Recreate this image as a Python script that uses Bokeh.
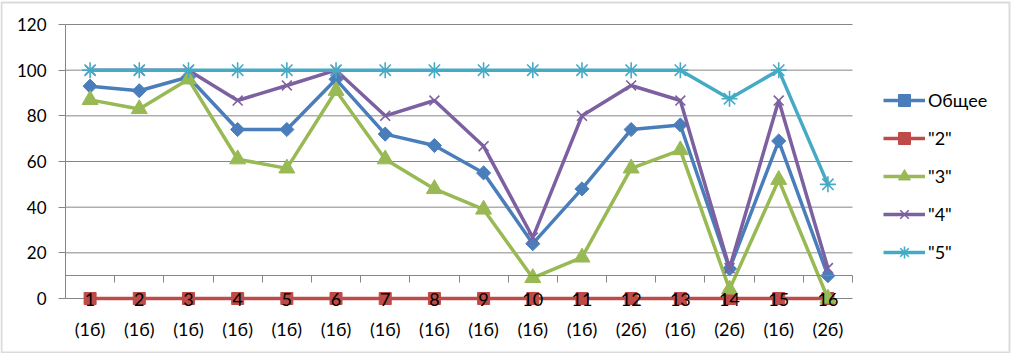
import numpy as np
from bokeh.plotting import figure
from bokeh.models import (Range1d, FixedTicker, LinearAxis, Legend, LegendItem,
                          BoxAnnotation)
from bokeh.embed import file_html
from bokeh.resources import INLINE

# ---- data ----
categories = list(range(1, 17))
groups = ["1б", "1б", "1б", "1б", "1б", "1б", "1б", "1б", "1б", "1б",
          "1б", "2б", "1б", "2б", "1б", "2б"]
total = [93, 91, 97, 74, 74, 96, 72, 67, 55, 24, 48, 74, 76, 13, 69, 10]
grade2 = [0, 0, 0, 0, 0, 0, 0, 0, 0, 0, 0, 0, 0, 0, 0, 0]
grade3 = [87, 83, 96, 61, 57, 91, 61, 48, 39, 9, 18, 57, 65, 4, 52, 0]
grade4 = [100, 100, 100, 86.7, 93.3, 100, 80, 86.7, 66.7, 26.7, 80, 93.3, 86.7, 13.3, 86.7, 13.3]
grade5 = [100, 100, 100, 100, 100, 100, 100, 100, 100, 100, 100, 100, 100, 87.5, 100, 50]
series_names = ["Общее", '"2"', '"3"', '"4"', '"5"']
y_ticks = [0, 20, 40, 60, 80, 100, 120]

FONT = "Lato"
GRID = "#868686"
W, H = 1011, 353
# plot area in pixels: x 65..852 for categories 0.5..16.5, y 298..24 for values 0..120
xs = 16 / 787.0
ys = 120 / 274.0
x_range = Range1d(0.5 - 65 * xs, 16.5 + (W - 852) * xs)
y_range = Range1d(0 - (H - 298) * ys, 120 + 24 * ys)

p = figure(width=W, height=H, frame_width=W, frame_height=H,
           output_backend="svg", toolbar_location=None,
           x_range=x_range, y_range=y_range,
           min_border=0, x_axis_type=None, y_axis_type=None)
p.outline_line_color = None
p.background_fill_color = "white"
p.border_fill_color = "white"
p.xgrid.visible = False
p.ygrid.visible = False

# horizontal gridlines over the plot area
p.segment(x0=[0.5] * len(y_ticks), x1=[16.5] * len(y_ticks), y0=y_ticks, y1=y_ticks,
          line_color=GRID, line_width=1)

# y axis
yax = LinearAxis(ticker=FixedTicker(ticks=y_ticks), bounds=(0, 120), fixed_location=0.5)
yax.axis_line_color = GRID
yax.major_tick_line_color = GRID
yax.major_tick_out = 7
yax.major_tick_in = 0
yax.minor_tick_line_color = None
yax.major_label_standoff = 12
yax.major_label_text_font = FONT
yax.major_label_text_font_size = "17px"
yax.major_label_text_color = "black"
p.add_layout(yax, "left")

# x axis line with tick marks at category boundaries, crossing at 10
xtick_axis = LinearAxis(ticker=FixedTicker(ticks=[c - 0.5 for c in categories] + [16.5]),
                        fixed_location=10, bounds=(0.5, 16.5))
xtick_axis.axis_line_color = GRID
xtick_axis.major_tick_line_color = GRID
xtick_axis.major_tick_out = 7
xtick_axis.major_tick_in = 0
xtick_axis.minor_tick_line_color = None
xtick_axis.major_label_text_alpha = 0
xtick_axis.major_label_text_font_size = "1px"
p.add_layout(xtick_axis, "below")

# category labels (two lines: number, then group)
def label_axis(overrides, standoff):
    ax = LinearAxis(ticker=FixedTicker(ticks=categories), fixed_location=10)
    ax.axis_line_color = None
    ax.major_tick_line_color = None
    ax.minor_tick_line_color = None
    ax.major_tick_out = 0
    ax.major_tick_in = 0
    ax.major_label_standoff = standoff
    ax.major_label_overrides = overrides
    ax.major_label_text_font = FONT
    ax.major_label_text_font_size = "18px"
    ax.major_label_text_color = "black"
    return ax

p.add_layout(label_axis({c: str(c) for c in categories}, 17), "below")
p.add_layout(label_axis({c: f"({g})" for c, g in zip(categories, groups)}, 42), "below")

colors = ["#4A7EBB", "#BE4B48", "#98B954", "#7D60A0", "#46AAC5"]
values = [total, grade2, grade3, grade4, grade5]
markers = ["square", "square", "triangle", "x", "asterisk"]
sizes = [10, 12, 16, 14, 16]
angles = [np.pi / 4, 0, 0, 0, 0]

items = []
for name, col, vals, mk, sz, ang in zip(series_names, colors, values, markers, sizes, angles):
    lr = p.line(categories, vals, line_color=col, line_width=3.5)
    if mk in ("x", "asterisk"):
        sr = p.scatter(categories, vals, marker=mk, size=sz, line_color=col, line_width=1.6)
    else:
        sr = p.scatter(categories, vals, marker=mk, size=sz, angle=ang,
                       fill_color=col, line_color=col, line_width=1)
    items.append(LegendItem(label=name, renderers=[lr, sr]))

legend = Legend(items=items, location=(883, 86))
legend.border_line_color = None
legend.background_fill_alpha = 0
legend.padding = 0
legend.margin = 0
legend.glyph_width = 42
legend.glyph_height = 30
legend.label_height = 30
legend.spacing = 8
legend.label_standoff = 3
legend.label_text_font = FONT
legend.label_text_font_size = "18px"
legend.label_text_color = "black"
p.add_layout(legend, "center")

# chart border
p.add_layout(BoxAnnotation(left=1, right=W - 2, top=1, bottom=H - 2,
                           left_units="screen", right_units="screen",
                           top_units="screen", bottom_units="screen",
                           fill_alpha=0, line_color="#878787", line_width=2,
                           level="overlay"))

open("out.html", "w").write(file_html(p, INLINE))
